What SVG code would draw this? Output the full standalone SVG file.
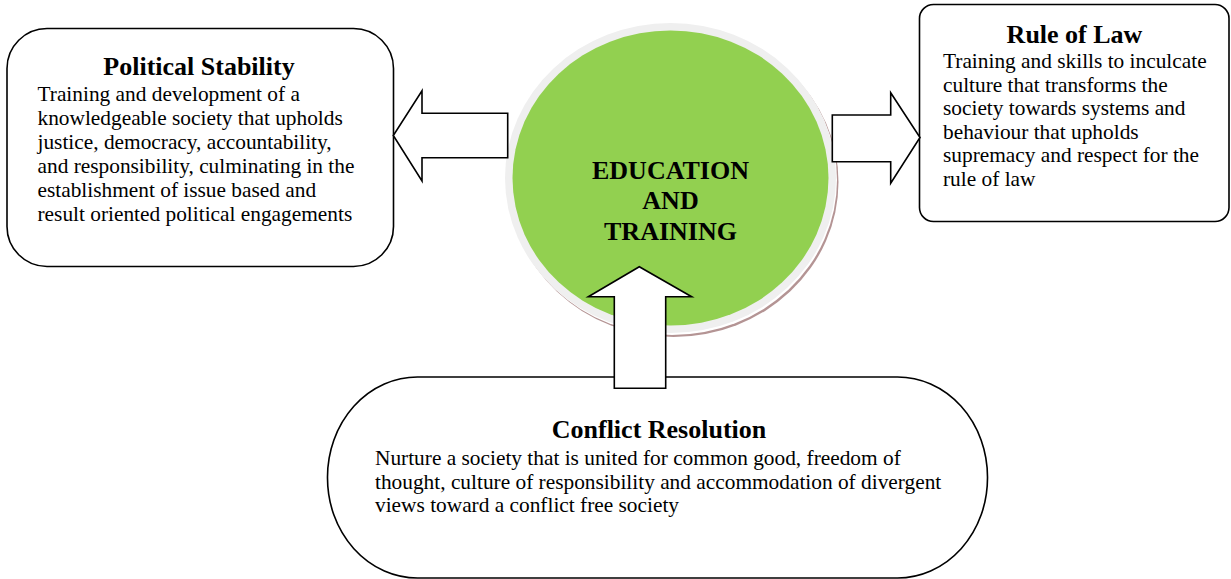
<svg xmlns="http://www.w3.org/2000/svg" width="1231" height="579" viewBox="0 0 1231 579">
<style>
.box{fill:#fff;stroke:#000;stroke-width:1.6}
.arrow{fill:#fff;stroke:#000;stroke-width:1.6;stroke-linejoin:miter}
.title{font-family:"Liberation Serif","Times New Roman",serif;font-weight:bold;font-size:26px;fill:#000;text-anchor:middle}
.body{font-family:"Liberation Serif","Times New Roman",serif;font-size:21.35px;fill:#000}
</style>
<rect width="1231" height="579" fill="#fff"/>
<g id="node-political-stability">
<rect class="box" x="7" y="28.5" width="386.5" height="238" rx="40" ry="40"/>
<text class="title" x="199" y="75">Political Stability</text>
<text class="body" x="37.5" y="101">Training and development of a</text>
<text class="body" x="37.5" y="125">knowledgeable society that upholds</text>
<text class="body" x="37.5" y="149">justice, democracy, accountability,</text>
<text class="body" x="37.5" y="173">and responsibility, culminating in the</text>
<text class="body" x="37.5" y="197">establishment of issue based and</text>
<text class="body" x="37.5" y="221">result oriented political engagements</text>
</g>
<g id="node-rule-of-law">
<rect class="box" x="919.5" y="4.5" width="309.5" height="217" rx="14" ry="14"/>
<text class="title" x="1074.5" y="42.5">Rule of Law</text>
<text class="body" x="943" y="68">Training and skills to inculcate</text>
<text class="body" x="943" y="91.5">culture that transforms the</text>
<text class="body" x="943" y="115">society towards systems and</text>
<text class="body" x="943" y="138.5">behaviour that upholds</text>
<text class="body" x="943" y="162">supremacy and respect for the</text>
<text class="body" x="943" y="185.5">rule of law</text>
</g>
<g id="node-conflict-resolution">
<rect class="box" x="327.5" y="377" width="660" height="201" rx="90" ry="100"/>
<text class="title" x="659" y="438">Conflict Resolution</text>
<text class="body" x="375" y="465">Nurture a society that is united for common good, freedom of</text>
<text class="body" x="375" y="488.5">thought, culture of responsibility and accommodation of divergent</text>
<text class="body" x="375" y="512">views toward a conflict free society</text>
</g>
<g id="node-education-training">
<ellipse cx="673.5" cy="182" rx="165" ry="155" fill="#b49494"/>
<ellipse cx="672" cy="180" rx="165" ry="155" fill="#ffffff"/>
<ellipse cx="670.5" cy="178" rx="165.5" ry="155" fill="#efefef"/>
<ellipse cx="670.5" cy="178" rx="158" ry="147.5" fill="#92d050"/>
<text class="title" x="670.5" y="178.5">EDUCATION</text>
<text class="title" x="670.5" y="209">AND</text>
<text class="title" x="670.5" y="240">TRAINING</text>
</g>
<g id="connectors">
<path class="arrow" d="M507.7,113.3 L422,113.3 L422,90.7 L393.3,135.5 L422,181 L422,157.7 L507.7,157.7 Z"/>
<path class="arrow" d="M832.3,115 L890.7,115 L890.7,92.7 L920,137.5 L890.7,183.3 L890.7,161.7 L832.3,161.7 Z"/>
<path class="arrow" d="M614.3,388.3 L614.3,296.7 L588.3,296.7 L639.3,266.7 L691.7,296.7 L665.7,296.7 L665.7,388.3 Z"/>
</g>
</svg>
